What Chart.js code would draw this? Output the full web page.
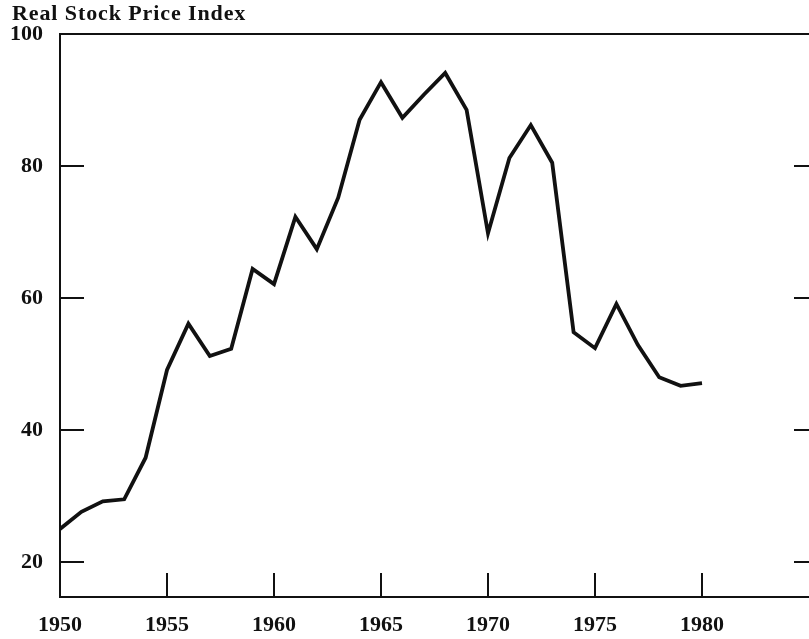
<!DOCTYPE html>
<html lang="en">
<head>
  <meta charset="UTF-8">
  <title>Real Stock Price Index</title>
  <script src="https://cdn.jsdelivr.net/npm/chart.js"></script>
  <style>
    html, body { margin: 0; padding: 0; background: #fff; }
    .wrap { position: relative; width: 809px; height: 639px; overflow: hidden; }
    .title {
      position: absolute; left: 12px; top: 0px;
      font-family: "Liberation Serif", "DejaVu Serif", serif;
      font-weight: bold; font-size: 22px; letter-spacing: 0.9px; color: #111;
    }
    canvas { display: block; }
  </style>
</head>
<body>
  <div class="wrap">
    <canvas id="chart" width="809" height="639"></canvas>
    <div class="title">Real Stock Price Index</div>
  </div>

  <script>
    // annual values
    const years = [1950, 1951, 1952, 1953, 1954, 1955, 1956, 1957, 1958, 1959,
                   1960, 1961, 1962, 1963, 1964, 1965, 1966, 1967, 1968, 1969,
                   1970, 1971, 1972, 1973, 1974, 1975, 1976, 1977, 1978, 1979, 1980];
    const priceIndex = [25.0, 27.6, 29.2, 29.5, 35.8, 49.1, 56.1, 51.2, 52.3, 64.4,
                        62.1, 72.3, 67.4, 75.2, 87.0, 92.7, 87.3, 90.8, 94.1, 88.5,
                        69.8, 81.2, 86.2, 80.5, 54.8, 52.4, 59.1, 52.9, 48.0, 46.7, 47.1];
    const xTicks = [1950, 1955, 1960, 1965, 1970, 1975, 1980];
    const yTicks = [20, 40, 60, 80, 100];

    const serif = '"Liberation Serif", "DejaVu Serif", serif';

    // inward tick marks + top frame line
    const frame = {
      id: 'frame',
      afterDraw(c) {
        const ctx = c.ctx, a = c.chartArea;
        const xs = c.scales.x, ys = c.scales.y;
        ctx.save();
        ctx.strokeStyle = '#111';
        ctx.lineWidth = 2;
        ctx.beginPath();
        ctx.moveTo(a.left, a.top);
        ctx.lineTo(a.right, a.top);
        xTicks.forEach(v => {
          if (v === xs.min) return;
          const px = xs.getPixelForValue(v);
          ctx.moveTo(px, a.bottom);
          ctx.lineTo(px, a.bottom - 24);
        });
        yTicks.forEach(v => {
          if (v === ys.max) return;
          const py = ys.getPixelForValue(v);
          ctx.moveTo(a.left, py);
          ctx.lineTo(a.left + 24, py);
          ctx.moveTo(a.right, py);
          ctx.lineTo(a.right - 15, py);
        });
        ctx.stroke();
        ctx.restore();
      }
    };

    new Chart(document.getElementById('chart'), {
      type: 'line',
      data: {
        datasets: [{
          data: years.map((y, i) => ({ x: y, y: priceIndex[i] })),
          borderColor: '#111',
          borderWidth: 3.8,
          pointRadius: 0,
          tension: 0,
          fill: false
        }]
      },
      options: {
        responsive: false,
        animation: false,
        layout: { padding: { top: 34, right: 0, left: 0, bottom: 0 } },
        plugins: { legend: { display: false }, tooltip: { enabled: false } },
        scales: {
          x: {
            type: 'linear',
            min: 1950,
            max: 1985,
            afterBuildTicks: s => { s.ticks = xTicks.map(v => ({ value: v })); },
            afterFit: s => { s.height = 42; },
            grid: { display: false, drawTicks: false },
            border: { display: true, color: '#111', width: 2 },
            ticks: {
              color: '#111',
              padding: 15,
              maxRotation: 0,
              font: { family: serif, size: 22, weight: 'bold' },
              callback: v => String(v)
            }
          },
          y: {
            type: 'linear',
            min: 14.7,
            max: 100,
            afterBuildTicks: s => { s.ticks = yTicks.map(v => ({ value: v })); },
            afterFit: s => { s.width = 60; },
            grid: { display: false, drawTicks: false },
            border: { display: true, color: '#111', width: 2 },
            ticks: {
              color: '#111',
              padding: 17,
              font: { family: serif, size: 22, weight: 'bold' }
            }
          }
        }
      },
      plugins: [frame]
    });
  </script>
</body>
</html>
